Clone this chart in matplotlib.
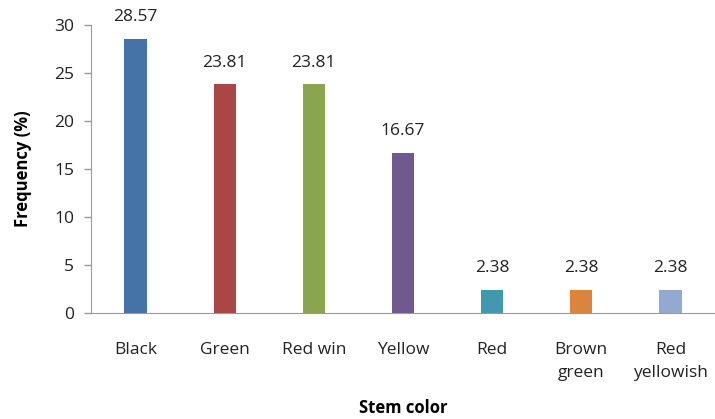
import matplotlib
matplotlib.use("Agg")
import matplotlib.pyplot as plt

categories = ["Black", "Green", "Red win", "Yellow", "Red", "Brown\ngreen", "Red\nyellowish"]
values = [28.57, 23.81, 23.81, 16.67, 2.38, 2.38, 2.38]
colors = ["#4572A7", "#AA4643", "#89A54E", "#71588F", "#4198AF", "#DB843D", "#93A9CF"]
yticks = [0, 5, 10, 15, 20, 25, 30]

plt.rcParams['font.family'] = ['Open Sans', 'DejaVu Sans']

fig = plt.figure(figsize=(7.15, 4.19), dpi=100)
ax = fig.add_axes([91/715, 106/419, 624/715, 288/419])

x = list(range(len(categories)))
bars = ax.bar(x, values, width=0.25, color=colors)
for xi, v in zip(x, values):
    ax.annotate(f"{v:.2f}", (xi, v), xytext=(0, 10), textcoords="offset points",
                ha="center", va="bottom", fontsize=12.5, color="#222222")

ax.set_xlim(-0.5, len(categories) - 0.5)
ax.set_ylim(0, 30)
ax.set_yticks(yticks)
ax.set_yticklabels([str(t) for t in yticks], fontsize=12.5, color="#222222")
ax.set_xticks(x)
ax.set_xticklabels(categories, fontsize=12.5, color="#222222", va="top", linespacing=1.55)
ax.tick_params(axis="x", length=0, pad=21)
ax.tick_params(axis="y", length=5, color="#999999", width=1, pad=7)

for s in ["top", "right"]:
    ax.spines[s].set_visible(False)
for s in ["left", "bottom"]:
    ax.spines[s].set_color("#999999")

ax.set_ylabel("Frequency (%)", fontsize=12, fontweight="bold", labelpad=16)
ax.set_xlabel("Stem color", fontsize=12, fontweight="bold")
ax.xaxis.label.set_va("center")
ax.xaxis.set_label_coords(0.5, -(408 - 313) / 288)

fig.savefig("out.png", dpi=100)
